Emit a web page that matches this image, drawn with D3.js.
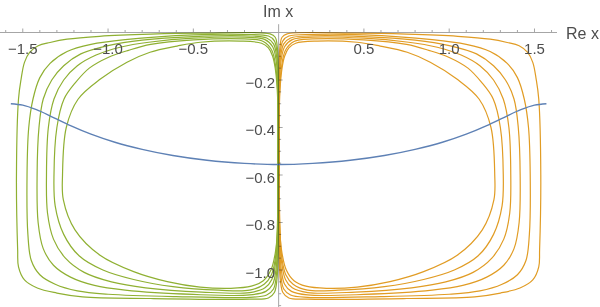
<!DOCTYPE html>
<html>
<head>
<meta charset="utf-8">
<script src="https://cdn.jsdelivr.net/npm/d3@7"></script>
<style>
  html, body { margin: 0; padding: 0; background: #fff; }
  svg { display: block; font-family: "Liberation Sans", Arial, sans-serif; }
</style>
</head>
<body>
<svg id="chart" width="600" height="307"></svg>
<script>
// Closed level curves (green left of Re x = 0, orange right) plus one blue
// curve across. Points in data units [Re x, Im x].

const xMajor = [-1.5, -1.0, -0.5, 0.5, 1.0, 1.5];
const yMajor = [-0.2, -0.4, -0.6, -0.8, -1.0];
const xLabel = "Re x";
const yLabel = "Im x";

const blueCurve = [[-1.57,-0.300],[-1.50,-0.306],[-1.42,-0.325],[-1.32,-0.358],[-1.22,-0.392],[-1.10,-0.428],[-0.96,-0.462],[-0.80,-0.492],[-0.62,-0.518],[-0.42,-0.538],[-0.20,-0.551],[0,-0.556],[0.20,-0.551],[0.42,-0.538],[0.62,-0.518],[0.80,-0.492],[0.96,-0.462],[1.10,-0.428],[1.22,-0.392],[1.32,-0.358],[1.42,-0.325],[1.50,-0.306],[1.57,-0.300]];

const greenCurves = [
  [[-0.004,-0.12],[-0.008,-0.06],[-0.02,-0.02],[-0.05,-0.006],[-0.46,-0.003],[-0.75,-0.007],[-1.05,-0.016],[-1.24,-0.028],[-1.34,-0.042],[-1.41,-0.056],[-1.46,-0.084],[-1.49,-0.126],[-1.51,-0.197],[-1.525,-0.28],[-1.537,-0.6],[-1.53,-0.915],[-1.525,-0.987],[-1.49,-1.042],[-1.415,-1.076],[-1.30,-1.097],[-1.15,-1.113],[-0.75,-1.12],[-0.17,-1.123],[-0.06,-1.118],[-0.025,-1.095],[-0.01,-1.04],[-0.004,-0.95],[-0.003,-0.55]],
  [[-0.004,-0.16],[-0.01,-0.08],[-0.025,-0.035],[-0.06,-0.015],[-0.2,-0.008],[-0.5,-0.010],[-0.9,-0.03],[-1.10,-0.05],[-1.24,-0.08],[-1.34,-0.13],[-1.40,-0.19],[-1.44,-0.28],[-1.465,-0.40],[-1.475,-0.6],[-1.47,-0.85],[-1.45,-0.96],[-1.40,-1.02],[-1.31,-1.06],[-1.18,-1.088],[-1.0,-1.102],[-0.6,-1.112],[-0.17,-1.115],[-0.07,-1.105],[-0.03,-1.08],[-0.013,-1.02],[-0.005,-0.92],[-0.003,-0.55]],
  [[-0.004,-0.2],[-0.012,-0.1],[-0.03,-0.048],[-0.07,-0.023],[-0.2,-0.014],[-0.5,-0.017],[-0.80,-0.032],[-1.00,-0.055],[-1.16,-0.09],[-1.26,-0.14],[-1.33,-0.20],[-1.38,-0.28],[-1.405,-0.40],[-1.416,-0.6],[-1.41,-0.80],[-1.38,-0.91],[-1.32,-0.98],[-1.22,-1.03],[-1.08,-1.065],[-0.9,-1.085],[-0.5,-1.103],[-0.17,-1.105],[-0.075,-1.09],[-0.035,-1.06],[-0.016,-1.0],[-0.006,-0.89],[-0.003,-0.55]],
  [[-0.004,-0.24],[-0.014,-0.12],[-0.035,-0.06],[-0.08,-0.03],[-0.2,-0.02],[-0.5,-0.024],[-0.75,-0.040],[-0.93,-0.062],[-1.07,-0.095],[-1.18,-0.14],[-1.26,-0.20],[-1.317,-0.28],[-1.35,-0.40],[-1.361,-0.6],[-1.355,-0.76],[-1.32,-0.87],[-1.25,-0.95],[-1.14,-1.01],[-0.98,-1.05],[-0.78,-1.075],[-0.45,-1.093],[-0.17,-1.095],[-0.08,-1.075],[-0.04,-1.04],[-0.018,-0.97],[-0.007,-0.86],[-0.003,-0.55]],
  [[-0.004,-0.28],[-0.016,-0.15],[-0.04,-0.075],[-0.09,-0.038],[-0.2,-0.027],[-0.5,-0.031],[-0.75,-0.050],[-0.88,-0.075],[-1.00,-0.105],[-1.11,-0.15],[-1.19,-0.21],[-1.258,-0.28],[-1.30,-0.40],[-1.317,-0.6],[-1.31,-0.73],[-1.26,-0.85],[-1.17,-0.94],[-1.03,-1.0],[-0.85,-1.04],[-0.62,-1.07],[-0.35,-1.085],[-0.17,-1.085],[-0.085,-1.06],[-0.042,-1.02],[-0.019,-0.95],[-0.008,-0.83],[-0.003,-0.55]],
  [[-0.004,-0.32],[-0.01,-0.22],[-0.02,-0.15],[-0.035,-0.1],[-0.06,-0.065],[-0.1,-0.045],[-0.226,-0.036],[-0.46,-0.041],[-0.595,-0.057],[-0.754,-0.083],[-0.889,-0.125],[-1.047,-0.197],[-1.176,-0.281],[-1.245,-0.40],[-1.267,-0.6],[-1.262,-0.705],[-1.194,-0.831],[-1.047,-0.938],[-0.85,-1.007],[-0.653,-1.049],[-0.46,-1.072],[-0.28,-1.077],[-0.16,-1.068],[-0.09,-1.045],[-0.045,-1.0],[-0.02,-0.93],[-0.008,-0.85],[-0.004,-0.72],[-0.003,-0.55]]
];

const orangeCurves = [
  [[0.004,-0.12],[0.008,-0.06],[0.02,-0.02],[0.05,-0.006],[0.46,-0.003],[0.75,-0.007],[1.05,-0.016],[1.24,-0.028],[1.34,-0.042],[1.41,-0.056],[1.46,-0.084],[1.49,-0.126],[1.51,-0.197],[1.525,-0.28],[1.537,-0.6],[1.53,-0.915],[1.525,-0.987],[1.49,-1.042],[1.415,-1.076],[1.30,-1.097],[1.15,-1.113],[0.75,-1.12],[0.17,-1.123],[0.06,-1.118],[0.025,-1.095],[0.01,-1.04],[0.004,-0.95],[0.003,-0.55]],
  [[0.004,-0.16],[0.01,-0.08],[0.025,-0.035],[0.06,-0.015],[0.2,-0.008],[0.5,-0.010],[0.9,-0.03],[1.10,-0.05],[1.24,-0.08],[1.34,-0.13],[1.40,-0.19],[1.44,-0.28],[1.465,-0.40],[1.475,-0.6],[1.47,-0.85],[1.45,-0.96],[1.40,-1.02],[1.31,-1.06],[1.18,-1.088],[1.0,-1.102],[0.6,-1.112],[0.17,-1.115],[0.07,-1.105],[0.03,-1.08],[0.013,-1.02],[0.005,-0.92],[0.003,-0.55]],
  [[0.004,-0.2],[0.012,-0.1],[0.03,-0.048],[0.07,-0.023],[0.2,-0.014],[0.5,-0.017],[0.80,-0.032],[1.00,-0.055],[1.16,-0.09],[1.26,-0.14],[1.33,-0.20],[1.38,-0.28],[1.405,-0.40],[1.416,-0.6],[1.41,-0.80],[1.38,-0.91],[1.32,-0.98],[1.22,-1.03],[1.08,-1.065],[0.9,-1.085],[0.5,-1.103],[0.17,-1.105],[0.075,-1.09],[0.035,-1.06],[0.016,-1.0],[0.006,-0.89],[0.003,-0.55]],
  [[0.004,-0.24],[0.014,-0.12],[0.035,-0.06],[0.08,-0.03],[0.2,-0.02],[0.5,-0.024],[0.75,-0.040],[0.93,-0.062],[1.07,-0.095],[1.18,-0.14],[1.26,-0.20],[1.317,-0.28],[1.35,-0.40],[1.361,-0.6],[1.355,-0.76],[1.32,-0.87],[1.25,-0.95],[1.14,-1.01],[0.98,-1.05],[0.78,-1.075],[0.45,-1.093],[0.17,-1.095],[0.08,-1.075],[0.04,-1.04],[0.018,-0.97],[0.007,-0.86],[0.003,-0.55]],
  [[0.004,-0.28],[0.016,-0.15],[0.04,-0.075],[0.09,-0.038],[0.2,-0.027],[0.5,-0.031],[0.75,-0.050],[0.88,-0.075],[1.00,-0.105],[1.11,-0.15],[1.19,-0.21],[1.258,-0.28],[1.30,-0.40],[1.317,-0.6],[1.31,-0.73],[1.26,-0.85],[1.17,-0.94],[1.03,-1.0],[0.85,-1.04],[0.62,-1.07],[0.35,-1.085],[0.17,-1.085],[0.085,-1.06],[0.042,-1.02],[0.019,-0.95],[0.008,-0.83],[0.003,-0.55]],
  [[0.004,-0.32],[0.01,-0.22],[0.02,-0.15],[0.035,-0.1],[0.06,-0.065],[0.1,-0.045],[0.226,-0.036],[0.46,-0.041],[0.595,-0.057],[0.754,-0.083],[0.889,-0.125],[1.047,-0.197],[1.176,-0.281],[1.245,-0.40],[1.267,-0.6],[1.262,-0.705],[1.194,-0.831],[1.047,-0.938],[0.85,-1.007],[0.653,-1.049],[0.46,-1.072],[0.28,-1.077],[0.16,-1.068],[0.09,-1.045],[0.045,-1.0],[0.02,-0.93],[0.008,-0.85],[0.004,-0.72],[0.003,-0.55]]
];

const BLUE = "#5e81b5", ORANGE = "#e19c24", GREEN = "#8fb032";
const AXIS = "#a6a6a6", TEXT = "#4d4d4d";

const svg = d3.select("#chart");
svg.append("rect").attr("width", 600).attr("height", 307).attr("fill", "#fff");

const x = d3.scaleLinear().domain([-1.6335, 1.632]).range([0, 557]);
const y = d3.scaleLinear().domain([0, -1]).range([32.5, 270]);

const closed = d3.line().x((d) => x(d[0])).y((d) => y(d[1]))
  .curve(d3.curveCatmullRomClosed.alpha(0.5));
const open = d3.line().x((d) => x(d[0])).y((d) => y(d[1]))
  .curve(d3.curveMonotoneX);

// --- curves ---
const g = svg.append("g");
g.selectAll("path.orange").data(orangeCurves).join("path")
  .attr("class", "orange").attr("d", closed)
  .attr("fill", "none").attr("stroke", ORANGE).attr("stroke-width", 1.2);
g.selectAll("path.green").data(greenCurves).join("path")
  .attr("class", "green").attr("d", closed)
  .attr("fill", "none").attr("stroke", GREEN).attr("stroke-width", 1.2);
g.append("path").datum(blueCurve).attr("d", open)
  .attr("fill", "none").attr("stroke", BLUE).attr("stroke-width", 1.4);

// --- axes (crossing at the origin); multiply so the axis darkens the
// green strands that run along Re x = 0, like the original ---
const x0 = x(0), y0 = y(0);
const xMinor = d3.range(-16, 17).map((i) => i / 10).filter((v) => Math.abs(v) > 1e-9 && !xMajor.some((m) => Math.abs(m - v) < 1e-9));
const yMinor = d3.range(1, 24).map((i) => -i * 0.05).filter((v) => !yMajor.some((m) => Math.abs(m - v) < 1e-9));

const ax = svg.append("g").attr("stroke", AXIS).attr("stroke-width", 1)
  .style("mix-blend-mode", "multiply");
ax.append("line").attr("x1", x.range()[0]).attr("x2", x.range()[1]).attr("y1", y0).attr("y2", y0);
ax.append("line").attr("x1", x0).attr("x2", x0).attr("y1", y(0.035)).attr("y2", 307);

ax.selectAll("line.xt").data(xMajor.concat(xMinor)).join("line")
  .attr("class", "xt")
  .attr("x1", (d) => x(d)).attr("x2", (d) => x(d))
  .attr("y1", y0).attr("y2", (d) => y0 - (xMajor.includes(d) ? 4 : 2.5));
ax.selectAll("line.yt").data(yMajor.concat(yMinor)).join("line")
  .attr("class", "yt")
  .attr("y1", (d) => y(d)).attr("y2", (d) => y(d))
  .attr("x1", x0).attr("x2", (d) => x0 + (yMajor.includes(d) ? 4 : 2.5));

const fmt = (v) => (v < 0 ? "\u2212" : "") + d3.format(".1f")(Math.abs(v));

svg.append("g").selectAll("text").data(xMajor).join("text")
  .attr("x", (d) => x(d)).attr("y", y0 + 21)
  .attr("text-anchor", "middle").attr("font-size", 15).attr("fill", TEXT)
  .text(fmt);
svg.append("g").selectAll("text").data(yMajor).join("text")
  .attr("x", x0 - 3.5).attr("y", (d) => y(d) + 7.5)
  .attr("text-anchor", "end").attr("font-size", 15).attr("fill", TEXT)
  .text(fmt);

svg.append("text").attr("x", 566).attr("y", y0 + 6)
  .attr("font-size", 16).attr("fill", TEXT).text(xLabel);
svg.append("text").attr("x", 263).attr("y", 17)
  .attr("font-size", 16).attr("fill", TEXT).text(yLabel);
</script>
</body>
</html>
